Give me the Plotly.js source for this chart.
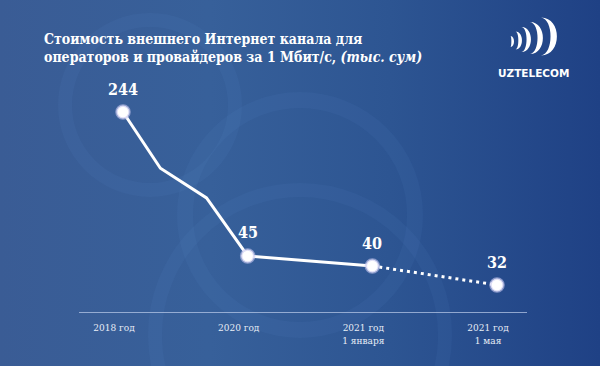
<!DOCTYPE html>
<html>
<head>
<meta charset="utf-8">
<script src="https://cdn.plot.ly/plotly-3.0.1.min.js"></script>
<style>
  html, body { margin: 0; padding: 0; }
  body {
    width: 600px; height: 366px; overflow: hidden;
    background: linear-gradient(90deg, #3a5c95 0%, #37609a 35%, #2d5592 65%, #1f4185 100%);
  }
  #chart { width: 600px; height: 366px; }
</style>
</head>
<body>
<div id="chart"></div>
<script>
// ---- data ----
const categories = ['2018 год', '2020 год', '2021 год<br>1 января', '2021 год<br>1 мая'];
const categoryPos = [0, 1, 2, 3];
const labelValues = [244, 45, 40, 32];
const solidX = [0, 0.3, 0.67, 1, 2];
const solidY = [244, 126, 89, 45, 40];
const dottedX = [2, 3];
const dottedY = [40, 32];
const titleText = '<b>Стоимость внешнего Интернет канала для<br>операторов и провайдеров за 1 Мбит/с, <i>(тыс. сум)</i></b>';
const logoText = 'UZTELECOM';

// ---- layout geometry helpers (decoration only) ----
const W = 600, H = 366;
const M = { l: 79, r: 73, t: 40, b: 54 };
const PW = W - M.l - M.r, PH = H - M.t - M.b;
const px = x => (x - M.l) / PW;
const py = y => (H - M.b - y) / PH;

const shapes = [];
// faint background rings
[[150, 105, 85, 14], [300, 215, 115, 16], [300, 335, 145, 14]].forEach(([cx, cy, r, w]) => {
  shapes.push({
    type: 'circle', xref: 'paper', yref: 'paper', layer: 'below',
    x0: px(cx - r), x1: px(cx + r), y0: py(cy + r), y1: py(cy - r),
    line: { color: 'rgba(120,170,230,0.06)', width: w }, fillcolor: 'rgba(0,0,0,0)'
  });
});
// logo crescents: [right edge, half height, width, thickness, centre y]
[[514, 5.5, 3.5, 2.6, 41.5], [522, 9, 6.5, 3.6, 40.5], [531, 12.5, 9.5, 4.4, 39.5],
 [543, 16, 13, 5.4, 38], [557, 19, 16, 6.4, 36.5]].forEach(([xr, h, w, t, yc]) => {
  const xt = xr - w;
  const k = 4 / 3;
  const p = (x, y) => px(x).toFixed(5) + ',' + py(y).toFixed(5);
  const path = 'M' + p(xt, yc - h) +
    ' C' + p(xt + k * w, yc - h) + ' ' + p(xt + k * w, yc + h) + ' ' + p(xt, yc + h) +
    ' C' + p(xt + k * (w - t), yc + h * 0.92) + ' ' + p(xt + k * (w - t), yc - h * 0.92) + ' ' + p(xt, yc - h) + ' Z';
  shapes.push({ type: 'path', xref: 'paper', yref: 'paper', path: path,
    fillcolor: '#ffffff', line: { width: 0 } });
});

const annotations = [];
annotations.push({
  xref: 'paper', yref: 'paper', x: px(42), y: py(48), xanchor: 'left', yanchor: 'middle',
  align: 'left', showarrow: false, text: titleText,
  font: { family: 'DejaVu Serif Condensed, DejaVu Serif', size: 14, color: '#ffffff' }
});
annotations.push({
  xref: 'paper', yref: 'paper', x: px(533), y: py(73), xanchor: 'center', yanchor: 'middle',
  showarrow: false, text: '<b>' + logoText + '</b>',
  font: { family: 'DejaVu Sans', size: 10.5, color: '#ffffff' }
});
labelValues.forEach((v, i) => {
  annotations.push({
    x: categoryPos[i], y: Math.log10(v), xref: 'x', yref: 'y',
    text: '<b>' + v + '</b>', showarrow: false, yshift: 23,
    font: { family: 'DejaVu Serif Condensed, DejaVu Serif', size: 16, color: '#ffffff' }
  });
});

const traces = [
  { x: solidX, y: solidY, mode: 'lines', line: { color: '#ffffff', width: 3 }, hoverinfo: 'skip' },
  { x: dottedX, y: dottedY, mode: 'lines', line: { color: '#ffffff', width: 3, dash: '3px,4px' }, hoverinfo: 'skip' },
  { x: categoryPos, y: labelValues, mode: 'markers',
    marker: { size: 13, color: '#ffffff', line: { color: 'rgba(200,200,240,0.6)', width: 2.5 } } }
];

const layout = {
  width: W, height: H,
  margin: M,
  paper_bgcolor: 'rgba(0,0,0,0)', plot_bgcolor: 'rgba(0,0,0,0)',
  showlegend: false,
  xaxis: {
    range: [-0.353, 3.2406], tickvals: categoryPos, ticktext: categories,
    showgrid: false, zeroline: false, showline: true,
    linecolor: 'rgba(190,205,235,0.7)', linewidth: 1, ticks: '',
    ticklabelshift: -9, ticklabelstandoff: 6,
    tickfont: { family: 'DejaVu Serif Condensed, Liberation Serif', size: 10, color: '#e8edf6' }
  },
  yaxis: {
    type: 'log', range: [1.36746, 2.75457], visible: false,
    showgrid: false, zeroline: false
  },
  shapes: shapes,
  annotations: annotations
};

Plotly.newPlot('chart', traces, layout, { displayModeBar: false, staticPlot: true });
</script>
</body>
</html>
